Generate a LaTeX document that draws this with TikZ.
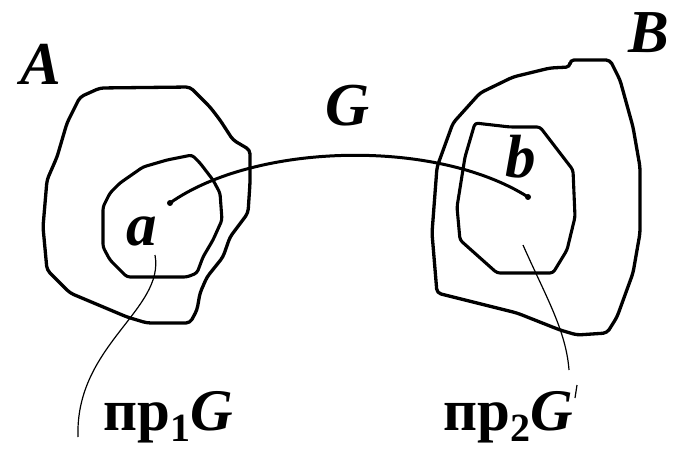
\documentclass[tikz,border=0pt]{standalone}
\usepackage{fontspec}
\setmainfont{Liberation Serif}
\begin{document}
\begin{tikzpicture}[x=1pt,y=-1pt,
  outerline/.style={line width=3.3pt,line join=round,rounded corners=4pt},
  innerline/.style={line width=3.1pt,line join=round,rounded corners=3pt},
  graphline/.style={line width=3pt,line cap=round},
  leader/.style={line width=1.2pt},
  lbl/.style={inner sep=0pt,anchor=base west,font=\fontsize{61}{62}\selectfont\bfseries\itshape},
  prlbl/.style={inner sep=0pt,anchor=base west,font=\fontsize{59}{60}\selectfont\bfseries}]
\useasboundingbox (0,0) rectangle (679,454);
% set A
\draw[outerline] (80,97) -- (100,88) -- (190,87) -- (210,107) -- (220,120) -- (233,140) -- (250,150) -- (250,183) -- (248,213) -- (230,237) -- (223,257) -- (207,277) -- (200,293) -- (197,310) -- (190,323) -- (147,323) -- (127,317) -- (70,293) -- (47,270) -- (43,227) -- (47,180) -- (57,157) -- (67,123) -- cycle;
% pr1 G
\draw[innerline] (110,193) -- (120,183) -- (143,167) -- (167,160) -- (192,155) -- (200,163) -- (213,180) -- (220,193) -- (222,220) -- (213,240) -- (203,257) -- (197,273) -- (187,277) -- (127,277) -- (110,260) -- (103,247) -- (103,207) -- cycle;
% set B
\draw[outerline] (570,60) -- (610,60) -- (620,80) -- (633,127) -- (640,167) -- (640,233) -- (633,273) -- (617,317) -- (607,333) -- (577,335) -- (560,330) -- (517,313) -- (477,303) -- (437,293) -- (432,233) -- (437,167) -- (453,123) -- (480,93) -- (513,77) -- (550,68) -- (570,67) -- cycle;
% pr2 G
\draw[innerline] (475,123) -- (510,127) -- (540,127) -- (573,170) -- (575,217) -- (567,250) -- (553,273) -- (497,273) -- (460,240) -- (457,207) -- (465,157) -- cycle;
% points
\coordinate (a) at (170,203);
\coordinate (b) at (528,197);
\fill (a) circle (3pt);
\fill (b) circle (3pt);
\draw[graphline] (a) .. controls (255,143) and (435,138) .. (b);
% labels
\node[lbl] (lA) at (20,85) {A};
\node[lbl] (lB) at (628,53) {B};
\node[lbl] (lG) at (325,126) {G};
\node[lbl] (la) at (126,245) {a};
\node[lbl] (lb) at (505,178) {b};
\node[prlbl] (p1) at (103,430) {пр\raisebox{-11pt}{\fontsize{40}{40}\selectfont 1}\textit{G}};
\node[prlbl] (p2) at (443,430) {пр\raisebox{-11pt}{\fontsize{40}{40}\selectfont 2}\textit{G}};
% leaders
\coordinate (s1) at (155,255);
\coordinate (e1) at (78,437);
\draw[leader] (s1) .. controls (165,310) and (75,345) .. (e1);
\coordinate (s2) at (523,245);
\coordinate (e2) at (569,370);
\draw[leader] (s2) .. controls (545,295) and (566,330) .. (e2);
\coordinate (t1) at (577,385);
\coordinate (t2) at (575,398);
\draw[leader] (t1) -- (t2);
\end{tikzpicture}
\end{document}
